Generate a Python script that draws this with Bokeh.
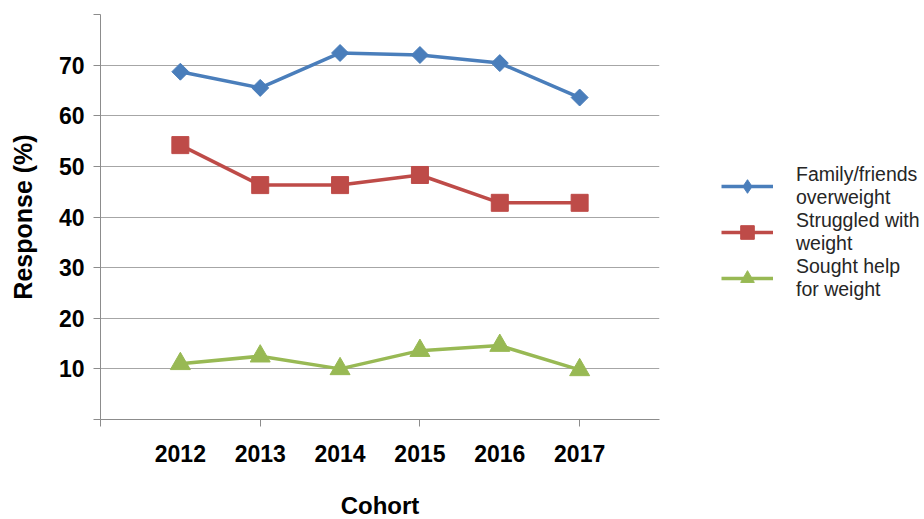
import math

from bokeh.plotting import figure
from bokeh.models import FixedTicker, Legend, LegendItem, Range1d
from bokeh.embed import file_html
from bokeh.resources import INLINE

# Survey responses (%) by cohort year
cohorts = [2012, 2013, 2014, 2015, 2016, 2017]
family_overweight = [68.7, 65.5, 72.4, 72.0, 70.4, 63.6]
struggled_weight = [54.2, 46.3, 46.3, 48.3, 42.8, 42.8]
sought_help = [11.0, 12.5, 10.0, 13.6, 14.6, 9.8]

series_labels = ["Family/friends\noverweight", "Struggled with\nweight", "Sought help\nfor weight"]
y_ticks = [0, 10, 20, 30, 40, 50, 60, 70, 80]

BLUE, RED, GREEN = "#4A7EBB", "#BE4B48", "#98B954"
GRID = "#A6A6A6"
AXIS = "#8C8C8C"
FONT = "Liberation Sans"

p = figure(frame_width=559, frame_height=405, output_backend="svg", toolbar_location=None,
           x_range=Range1d(2011, 2018), y_range=Range1d(0, 80),
           min_border_left=100, min_border_right=265, min_border_top=14,
           min_border_bottom=100)
p.outline_line_color = None
p.background_fill_color = "white"
p.border_fill_color = "white"

# y axis: gridlines every 10, labels only 10..70
p.yaxis.ticker = FixedTicker(ticks=y_ticks)
p.yaxis.major_label_overrides = {0: "", 80: ""}
p.yaxis.major_tick_out = 7
p.yaxis.major_tick_in = 0
p.yaxis.minor_tick_line_color = None
p.yaxis.major_tick_line_color = AXIS
p.yaxis.axis_line_color = AXIS
p.yaxis.major_label_text_font = FONT
p.yaxis.major_label_text_font_style = "bold"
p.yaxis.major_label_text_font_size = "23px"
p.yaxis.major_label_text_color = "#000000"
p.yaxis.major_label_standoff = 9
p.yaxis.axis_label = "Response (%)"
p.yaxis.axis_label_text_font = FONT
p.yaxis.axis_label_text_font_style = "bold"
p.yaxis.axis_label_text_font_size = "25px"
p.yaxis.axis_label_text_color = "#000000"
p.yaxis.axis_label_standoff = 19

# x axis: a label for each cohort, small tick marks on alternate years
p.xaxis.ticker = FixedTicker(ticks=cohorts, minor_ticks=[2011, 2013, 2015, 2017])
p.xaxis.major_tick_out = 0
p.xaxis.major_tick_in = 0
p.xaxis.major_tick_line_color = None
p.xaxis.minor_tick_out = 7
p.xaxis.minor_tick_in = 0
p.xaxis.minor_tick_line_color = AXIS
p.xaxis.axis_line_color = AXIS
p.xaxis.major_label_text_font = FONT
p.xaxis.major_label_text_font_style = "bold"
p.xaxis.major_label_text_font_size = "23px"
p.xaxis.major_label_text_color = "#000000"
p.xaxis.major_label_standoff = 18
p.xaxis.axis_label = "Cohort"
p.xaxis.axis_label_text_font = FONT
p.xaxis.axis_label_text_font_style = "bold"
p.xaxis.axis_label_text_font_size = "24px"
p.xaxis.axis_label_text_color = "#000000"
p.xaxis.axis_label_standoff = 27

p.xgrid.grid_line_color = None
p.ygrid.ticker = FixedTicker(ticks=y_ticks)
p.ygrid.grid_line_color = GRID
p.ygrid.grid_line_width = 1.2

lw = 3.5
l1 = p.line(cohorts, family_overweight, line_color=BLUE, line_width=lw)
# diamonds drawn as squares turned by 45 degrees
m1 = p.scatter(cohorts, family_overweight, marker="square", size=12, angle=math.pi / 4,
               fill_color=BLUE, line_color=BLUE)
# narrower diamond on top (hidden inside the turned square), used as the legend key
d1 = p.scatter(cohorts, family_overweight, marker="diamond", size=15,
               fill_color=BLUE, line_color=BLUE)
l2 = p.line(cohorts, struggled_weight, line_color=RED, line_width=lw)
m2 = p.scatter(cohorts, struggled_weight, marker="square", size=17,
               fill_color=RED, line_color=RED)
l3 = p.line(cohorts, sought_help, line_color=GREEN, line_width=lw)
m3 = p.scatter(cohorts, sought_help, marker="triangle", size=20,
               fill_color=GREEN, line_color=GREEN)

legend = Legend(items=[
    LegendItem(label=series_labels[0], renderers=[l1, d1]),
    LegendItem(label=series_labels[1], renderers=[l2, m2]),
    LegendItem(label=series_labels[2], renderers=[l3, m3]),
])
legend.location = (62, 118)
legend.border_line_color = None
legend.background_fill_alpha = 0
legend.padding = 0
legend.margin = 0
legend.spacing = 0
legend.glyph_width = 52
legend.glyph_height = 34
legend.label_standoff = 23
legend.label_text_font = FONT
legend.label_text_font_size = "19.5px"
legend.label_text_color = "#262626"
legend.label_text_line_height = 1.0
p.add_layout(legend, "right")

open("out.html", "w").write(file_html(p, INLINE))
